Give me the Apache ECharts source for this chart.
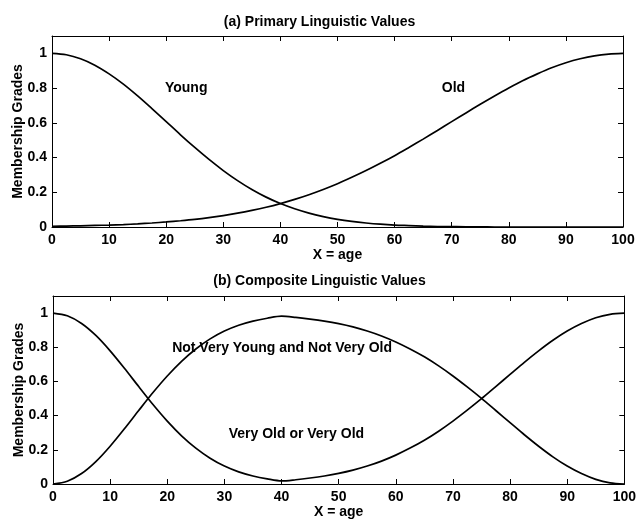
<!DOCTYPE html>
<html>
<head>
<meta charset="utf-8">
<script src="https://cdn.jsdelivr.net/npm/echarts@6/dist/echarts.min.js"></script>
<style>
html,body{margin:0;padding:0;background:#fff;}
#c{width:639px;height:521px;}
</style>
</head>
<body>
<div id="c"></div>
<script>
// ---- data (every 2.5 years) ----
var ages = [0,2.5,5,7.5,10,12.5,15,17.5,20,22.5,25,27.5,30,32.5,35,37.5,40,42.5,45,47.5,50,
            52.5,55,57.5,60,62.5,65,67.5,70,72.5,75,77.5,80,82.5,85,87.5,90,92.5,95,97.5,100];
var young = [1.000,0.992,0.969,0.932,0.882,0.823,0.755,0.682,0.607,0.531,0.458,0.389,0.325,0.267,0.216,0.172,0.135,0.105,0.080,0.060,0.044,
             0.032,0.023,0.016,0.011,0.008,0.005,0.003,0.002,0.001,0.001,0,0,0,0,0,0,0,0,0,0];
var old = [0.004,0.005,0.007,0.009,0.011,0.014,0.018,0.023,0.029,0.036,0.044,0.054,0.066,0.080,0.096,0.114,0.135,0.159,0.186,0.216,0.249,
           0.286,0.325,0.367,0.411,0.458,0.506,0.556,0.607,0.657,0.707,0.755,0.801,0.844,0.882,0.917,0.946,0.969,0.986,0.996,1.000];
var notVeryYoungAndNotVeryOld = [0.000,0.016,0.061,0.131,0.221,0.323,0.430,0.535,0.632,0.718,0.790,0.849,0.895,0.929,0.953,0.970,0.982,0.975,0.965,0.953,0.938,
           0.919,0.895,0.866,0.831,0.790,0.744,0.691,0.632,0.568,0.501,0.430,0.359,0.288,0.221,0.159,0.105,0.061,0.027,0.007,0.000];
var veryYoungOrVeryOld = [1.000,0.984,0.939,0.869,0.779,0.677,0.570,0.465,0.368,0.282,0.210,0.151,0.105,0.071,0.047,0.030,0.018,0.025,0.035,0.047,0.062,
           0.081,0.105,0.134,0.169,0.210,0.256,0.309,0.368,0.432,0.499,0.570,0.641,0.712,0.779,0.841,0.895,0.939,0.973,0.993,1.000];
var xTicks = [0,10,20,30,40,50,60,70,80,90,100];
var yTicks = [0,0.2,0.4,0.6,0.8,1];
var titles = ['(a) Primary Linguistic Values','(b) Composite Linguistic Values'];
var seriesNames = ['Young','Old','Not Very Young and Not Very Old','Very Old or Very Old'];

function pairs(xs, ys){ return xs.map(function(x,i){ return [x, ys[i]]; }); }

var FONT = '"Liberation Sans", Arial, Helvetica, sans-serif';
var INK = '#000';
var WEIGHT = 'bold';

function xAxes(gi){
  return [{
    type:'value', gridIndex:gi, min:0, max:100, interval:10, position:'bottom',
    name:'X = age', nameLocation:'middle', nameGap:20,
    nameTextStyle:{color:INK, fontSize:14, fontWeight:WEIGHT, fontFamily:FONT},
    axisLine:{show:true, onZero:false, lineStyle:{color:INK, width:1}},
    axisTick:{show:true, inside:true, length:5, lineStyle:{color:INK}},
    axisLabel:{show:true, color:INK, fontSize:14, fontWeight:WEIGHT, fontFamily:FONT, margin:6,
      formatter:function(v){ return xTicks.indexOf(v)>=0 ? String(v) : ''; }},
    splitLine:{show:false}
  },{
    type:'value', gridIndex:gi, min:0, max:100, interval:10, position:'top',
    axisLine:{show:true, onZero:false, lineStyle:{color:INK, width:1}},
    axisTick:{show:true, inside:true, length:5, lineStyle:{color:INK}},
    axisLabel:{show:false}, splitLine:{show:false}
  }];
}
function yAxes(gi){
  return [{
    type:'value', gridIndex:gi, min:0, max:1.1, interval:0.2, position:'left',
    name:'Membership Grades', nameLocation:'middle', nameGap:27, nameMoveOverlap:false,
    nameTextStyle:{color:INK, fontSize:14, fontWeight:WEIGHT, fontFamily:FONT},
    axisLine:{show:true, onZero:false, lineStyle:{color:INK, width:1}},
    axisTick:{show:true, inside:true, length:5, lineStyle:{color:INK}},
    axisLabel:{show:true, color:INK, fontSize:14, fontWeight:WEIGHT, fontFamily:FONT, margin:5, showMaxLabel:false,
      formatter:function(v){
        for (var i=0;i<yTicks.length;i++){ if (Math.abs(v-yTicks[i])<1e-6) return String(yTicks[i]); }
        return '';
      }},
    splitLine:{show:false}
  },{
    type:'value', gridIndex:gi, min:0, max:1.1, interval:0.2, position:'right',
    axisLine:{show:true, onZero:false, lineStyle:{color:INK, width:1}},
    axisTick:{show:true, inside:true, length:5, lineStyle:{color:INK}},
    axisLabel:{show:false}, splitLine:{show:false}
  }];
}

function curve(name, xi, yi, ys, labelCoord){
  return {
    type:'line', name:name, xAxisIndex:xi, yAxisIndex:yi,
    data:pairs(ages, ys), smooth:0.3, showSymbol:false, symbol:'none',
    lineStyle:{color:INK, width:1.7}, silent:true,
    markPoint:{
      symbol:'circle', symbolSize:1, silent:true,
      itemStyle:{color:'rgba(0,0,0,0)'},
      label:{show:true, position:'inside', color:INK, fontSize:14, fontWeight:WEIGHT, fontFamily:FONT,
        formatter:function(){ return name; }},
      data:[{coord:labelCoord}]
    }
  };
}

var chart = echarts.init(document.getElementById('c'), null, {renderer:'canvas'});
chart.setOption({
  backgroundColor:'#fff',
  animation:false,
  title:[
    {text:titles[0], left:'center', top:10, textStyle:{color:INK, fontSize:14, fontWeight:WEIGHT, fontFamily:FONT}},
    {text:titles[1], left:'center', top:269, textStyle:{color:INK, fontSize:14, fontWeight:WEIGHT, fontFamily:FONT}}
  ],
  grid:[
    {left:52, right:16, top:36, height:191, containLabel:false},
    {left:53, right:13, top:296, height:188, containLabel:false}
  ],
  xAxis: xAxes(0).concat(xAxes(1)),
  yAxis: yAxes(0).concat(yAxes(1)),
  series:[
    curve(seriesNames[0], 0, 0, young, [23.5, 0.80]),
    curve(seriesNames[1], 0, 0, old, [70.3, 0.80]),
    curve(seriesNames[2], 2, 2, notVeryYoungAndNotVeryOld, [40.1, 0.795]),
    curve(seriesNames[3], 2, 2, veryYoungOrVeryOld, [42.6, 0.29])
  ]
});
</script>
</body>
</html>
